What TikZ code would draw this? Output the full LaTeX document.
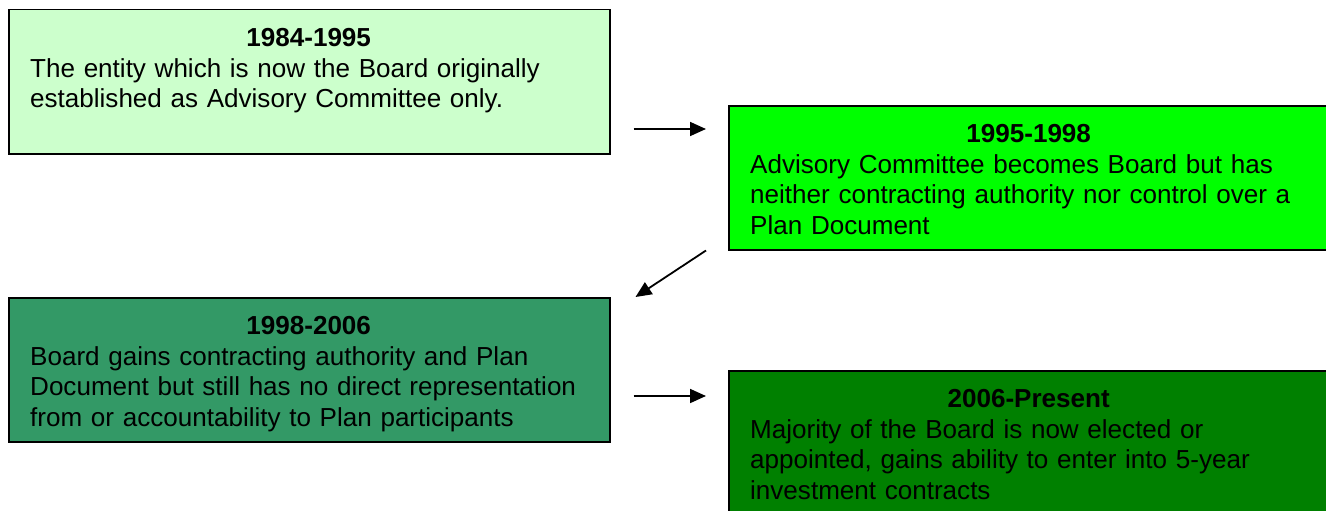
\documentclass[tikz,border=0pt]{standalone}
\usepackage{fontspec}
\setmainfont{Liberation Sans}
\usetikzlibrary{arrows.meta, positioning}

\definecolor{eraone}{HTML}{CCFFCC}
\definecolor{eratwo}{HTML}{00FF00}
\definecolor{erathree}{HTML}{339966}
\definecolor{erafour}{HTML}{008000}
\newcommand{\erafont}{\fontsize{26.05}{30.67}\selectfont\hyphenpenalty=10000\relax}

\begin{document}
\begin{tikzpicture}[
      x=1pt, y=-1pt,
      era/.style={rectangle, draw=black, line width=1.5pt, minimum width=601pt,
        minimum height=144pt, inner sep=0pt, anchor=north west},
      eratext/.style={anchor=north west, inner sep=0pt, text width=557pt, align=left,
        font=\erafont},
      flow/.style={-{Triangle[length=16pt, width=14pt]}, line width=1.8pt}
    ]
      \useasboundingbox (0,0) rectangle (1326,511);
      \node[era, fill=eraone] (e1) at (8,9) {};
      \node[era, fill=eratwo] (e2) at (728,105) {};
      \node[era, fill=erathree] (e3) at (8,297) {};
      \node[era, fill=erafour] (e4) at (728,370) {};
      \node[eratext] (t1) at ([shift={(22,19)}]e1.north west)
        {\makebox[\hsize]{\bfseries 1984-1995}\\
         The entity which is now the Board originally\\
         established as Advisory Committee only.};
      \node[eratext] (t2) at ([shift={(22,19)}]e2.north west)
        {\makebox[\hsize]{\bfseries 1995-1998}\\
         Advisory Committee becomes Board but has\\
         neither contracting authority nor control over a\\
         Plan Document};
      \node[eratext] (t3) at ([shift={(22,19)}]e3.north west)
        {\makebox[\hsize]{\bfseries 1998-2006}\\
         Board gains contracting authority and Plan\\
         Document but still has no direct representation\\
         from or accountability to Plan participants};
      \node[eratext] (t4) at ([shift={(22,19)}]e4.north west)
        {\makebox[\hsize]{\bfseries 2006-Present}\\
         Majority of the Board is now elected or\\
         appointed, gains ability to enter into 5-year\\
         investment contracts};
      \draw[flow] ([shift={(23,24)}]e1.east |- e2.north) -- ([shift={(-22,24)}]e2.north west);
      \draw[flow] ([shift={(-22,0)}]e2.south west) -- ([shift={(25,0)}]e3.north east);
      \draw[flow] ([shift={(23,26)}]e3.east |- e4.north) -- ([shift={(-22,26)}]e4.north west);
\end{tikzpicture}
\end{document}
